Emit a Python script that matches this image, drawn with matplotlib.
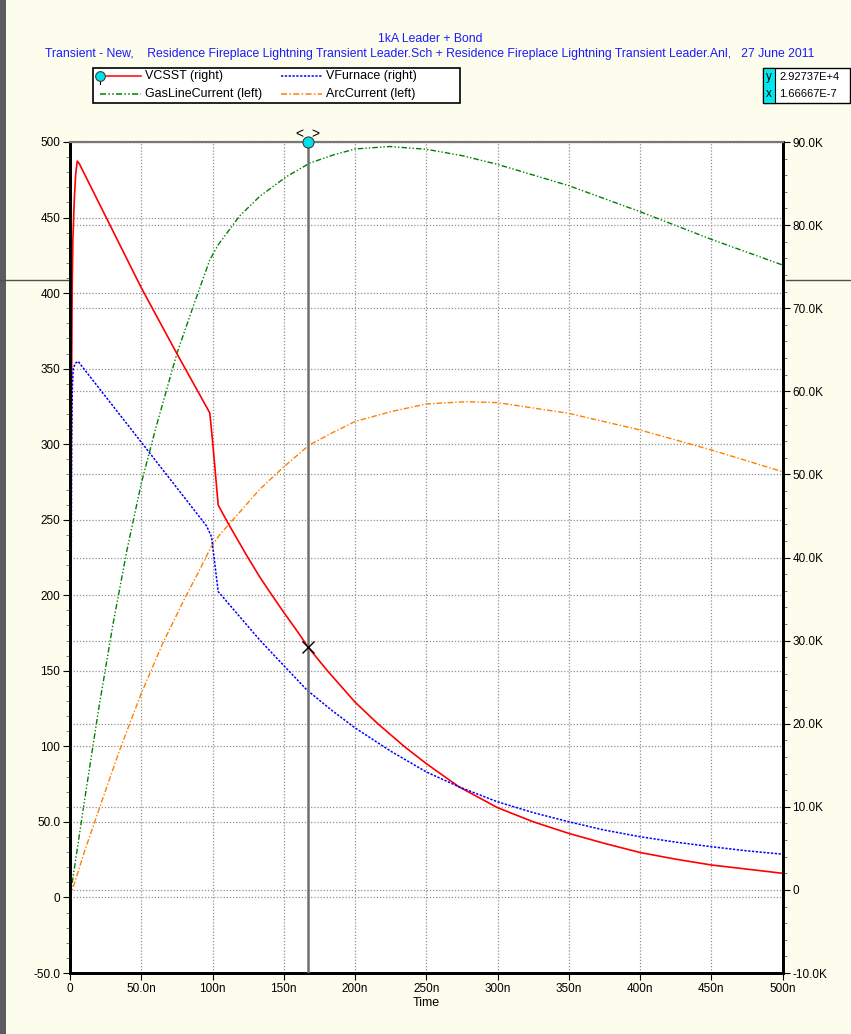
import matplotlib
matplotlib.use("Agg")
import matplotlib.pyplot as plt
from matplotlib.lines import Line2D
from matplotlib.patches import Rectangle
from matplotlib.ticker import MultipleLocator

plt.rcParams['font.family'] = ['Liberation Sans Narrow', 'Liberation Sans', 'DejaVu Sans']

# donnees (temps en ns)
t_vcsst = [0, 0.3, 0.7, 1.0, 1.5, 2.0, 3.0, 4.0, 5.1, 6.5, 50.2, 74.8, 98.1, 100, 104, 111, 123.8, 133,
           140, 150, 160, 166.7, 180, 200, 216, 235, 250, 273, 300, 325, 350, 375, 400, 425, 450, 475, 500]
vcsst = [0, 15, 40, 58, 72, 78.2, 83, 86.2, 87.7, 87.4, 72.4, 64.6, 57.4, 54.1, 46.3, 44.1, 40.3, 37.7,
         35.9, 33.4, 31.0, 29.3, 26.5, 22.6, 20.0, 17.2, 15.2, 12.4, 9.9, 8.2, 6.8, 5.6, 4.5, 3.7, 3.0,
         2.5, 2.0]  # kV (right)

t_vfurn = [0, 0.5, 1.0, 1.2, 1.6, 2.3, 4, 5.8, 7.5, 49, 95.8, 99.3, 104, 120, 133, 150, 166, 183, 200,
           225, 250, 273, 300, 325, 350, 375, 400, 425, 450, 475, 500]
vfurn = [0, 20, 45, 54.1, 60.2, 62.8, 63.4, 63.6, 63.2, 54.1, 43.8, 42.5, 35.9, 32.7, 30.1, 27.0, 24.1,
         21.7, 19.5, 16.7, 14.2, 12.4, 10.6, 9.3, 8.2, 7.2, 6.4, 5.75, 5.2, 4.7, 4.3]  # kV (right)

t_gas = [0, 10, 20, 30, 40, 50, 60, 75, 86.4, 98.1, 104, 119, 133.1, 151.8, 168.2, 185, 200.2, 224.2,
         250, 275, 300, 350, 400, 450, 500]
gas = [0, 63, 124, 180, 230, 274, 310, 360, 391, 422, 432, 451, 464, 477, 486, 491.5, 495.4, 497, 495.2,
       491, 485.2, 471.1, 453.9, 435.6, 418.6]  # A (left)

t_arc = [0, 10, 21, 35, 50, 65, 80, 90, 99, 105, 120, 133, 150, 168, 185, 200, 225, 250, 278, 300, 350,
         400, 450, 500]
arc = [0, 30, 60, 98, 135, 168, 197, 215, 232, 240, 256, 270, 285, 299.5, 308, 315, 321.5, 326.6, 328.1,
       327.5, 320.4, 309.4, 296.2, 281.8]  # A (left)

x_ticks = [0, 50, 100, 150, 200, 250, 300, 350, 400, 450, 500]
x_labels = ["0", "50.0n", "100n", "150n", "200n", "250n", "300n", "350n", "400n", "450n", "500n"]
left_ticks = [-50, 0, 50, 100, 150, 200, 250, 300, 350, 400, 450, 500]
left_labels = ["-50.0", "0", "50.0", "100", "150", "200", "250", "300", "350", "400", "450", "500"]
right_ticks = [-10, 0, 10, 20, 30, 40, 50, 60, 70, 80, 90]
right_labels = ["-10.0K", "0", "10.0K", "20.0K", "30.0K", "40.0K", "50.0K", "60.0K", "70.0K", "80.0K", "90.0K"]

cursor_t = 166.667
cursor_y = 29.2737

W, H = 851, 1034
def fx(x):
    return x / W
def fy(y):
    return 1 - y / H

fig = plt.figure(figsize=(W / 100, H / 100), dpi=100, facecolor='#fdfdee')
ax = fig.add_axes([fx(70), fy(973), fx(782.5) - fx(70), fy(142) - fy(973)])
ax.set_facecolor('white')
ax2 = ax.twinx()

gridkw = dict(color='#909090', linestyle=(0, (1, 1.5)), linewidth=0.9)

# courbes axe gauche
ax.plot(t_gas, gas, color='#008000', lw=1.0, linestyle=(0, (4, 1.5, 1, 1.5, 1, 1.5)))
ax.plot(t_arc, arc, color='#ff8000', lw=1.0, linestyle=(0, (4, 1.5, 1, 1.5)))
ax.set_xlim(0, 500)
ax.set_ylim(-50, 500)
ax.set_xticks(x_ticks)
ax.set_xticklabels(x_labels)
ax.set_yticks(left_ticks)
ax.set_yticklabels(left_labels)
ax.yaxis.set_minor_locator(MultipleLocator(10))
ax.grid(True, which='major', **gridkw)
ax.set_xlabel("Time", fontsize=9, labelpad=2)

# courbes axe droit
ax2.plot(t_vcsst, vcsst, color='#ff0000', lw=1.2)
ax2.plot(t_vfurn, vfurn, color='#0000ff', lw=1.1, linestyle=(0, (1.5, 1)))
ax2.set_ylim(-10, 90)
ax2.set_yticks(right_ticks)
ax2.set_yticklabels(right_labels)
ax2.yaxis.set_minor_locator(MultipleLocator(2))
ax2.grid(True, which='major', axis='y', **gridkw)

for a in (ax, ax2):
    a.tick_params(which='major', direction='out', length=5, width=0.8, labelsize=8.5, colors='black', pad=2)
    a.tick_params(which='minor', direction='out', length=3, width=0.6, color='#666666')
    for s in ('left', 'bottom', 'right'):
        a.spines[s].set_linewidth(2)
        a.spines[s].set_color('black')
    a.spines['top'].set_linewidth(1.5)
    a.spines['top'].set_color('#777777')

# curseur
ax2.axvline(cursor_t, color='#707070', lw=1.8, zorder=5)
ax2.plot([cursor_t], [cursor_y], marker='x', color='black', ms=9, mew=1.0, zorder=6)
ax2.plot([cursor_t], [1.0], marker='o', ms=8, mfc='#00e0e8', mec='#404040', mew=0.8,
         transform=ax2.get_xaxis_transform(), clip_on=False, zorder=7)
ax2.text(cursor_t - 5.5, 1.009, "<", transform=ax2.get_xaxis_transform(), ha='center', va='center', fontsize=10)
ax2.text(cursor_t + 5.5, 1.009, ">", transform=ax2.get_xaxis_transform(), ha='center', va='center', fontsize=10)

# titres
tcol = '#1a1aff'
fig.text(fx(430), fy(39), "1kA Leader + Bond", ha='center', va='center', fontsize=8.8, color=tcol)
fig.text(fx(430), fy(54), "Transient - New,    Residence Fireplace Lightning Transient Leader.Sch + "
         "Residence Fireplace Lightning Transient Leader.Anl,   27 June 2011",
         ha='center', va='center', fontsize=8.8, color=tcol)

# legende dessinee a la main
fig.patches.append(Rectangle((fx(93), fy(103)), fx(460) - fx(93), fy(68) - fy(103), transform=fig.transFigure,
                             facecolor='white', edgecolor='black', lw=1.2))
leg = [
    ("VCSST (right)", '#ff0000', '-', 100, 76),
    ("VFurnace (right)", '#0000ff', (0, (1.5, 1)), 281, 76),
    ("GasLineCurrent (left)", '#008000', (0, (4, 1.5, 1, 1.5, 1, 1.5)), 100, 94),
    ("ArcCurrent (left)", '#ff8000', (0, (4, 1.5, 1, 1.5)), 281, 94),
]
for lab, c, ls, x0, y0 in leg:
    fig.lines.append(Line2D([fx(x0), fx(x0 + 41)], [fy(y0), fy(y0)], color=c, linestyle=ls, lw=1.1,
                            transform=fig.transFigure))
    fig.text(fx(x0 + 45), fy(y0), lab, ha='left', va='center', fontsize=9)
fig.lines.append(Line2D([fx(100), fx(100)], [fy(76), fy(84)], color='black', lw=0.8, transform=fig.transFigure))
fig.lines.append(Line2D([fx(100)], [fy(76)], marker='o', ms=7, mfc='#00e0e8', mec='#404040', mew=0.8,
                        transform=fig.transFigure))

# boite de valeurs du curseur
fig.patches.append(Rectangle((fx(763), fy(103)), fx(850) - fx(763), fy(68) - fy(103), transform=fig.transFigure,
                             facecolor='white', edgecolor='black', lw=1.0))
fig.patches.append(Rectangle((fx(763), fy(103)), fx(775) - fx(763), fy(68) - fy(103), transform=fig.transFigure,
                             facecolor='#00e8f0', edgecolor='black', lw=0.8))
fig.text(fx(769), fy(77), "y", ha='center', va='center', fontsize=8.5)
fig.text(fx(769), fy(94), "x", ha='center', va='center', fontsize=8.5)
fig.text(fx(779), fy(77), "2.92737E+4", ha='left', va='center', fontsize=8)
fig.text(fx(779), fy(94), "1.66667E-7", ha='left', va='center', fontsize=8)

# bande grise a gauche et trait horizontal
fig.patches.append(Rectangle((0, 0), fx(6), 1, transform=fig.transFigure, facecolor='#5c5c60', edgecolor='none'))
fig.lines.append(Line2D([0, fx(68)], [fy(280), fy(280)], color='#505050', lw=1, transform=fig.transFigure))
fig.lines.append(Line2D([fx(786), 1], [fy(280), fy(280)], color='#505050', lw=1, transform=fig.transFigure))

fig.savefig("out.png", dpi=100, facecolor=fig.get_facecolor())
